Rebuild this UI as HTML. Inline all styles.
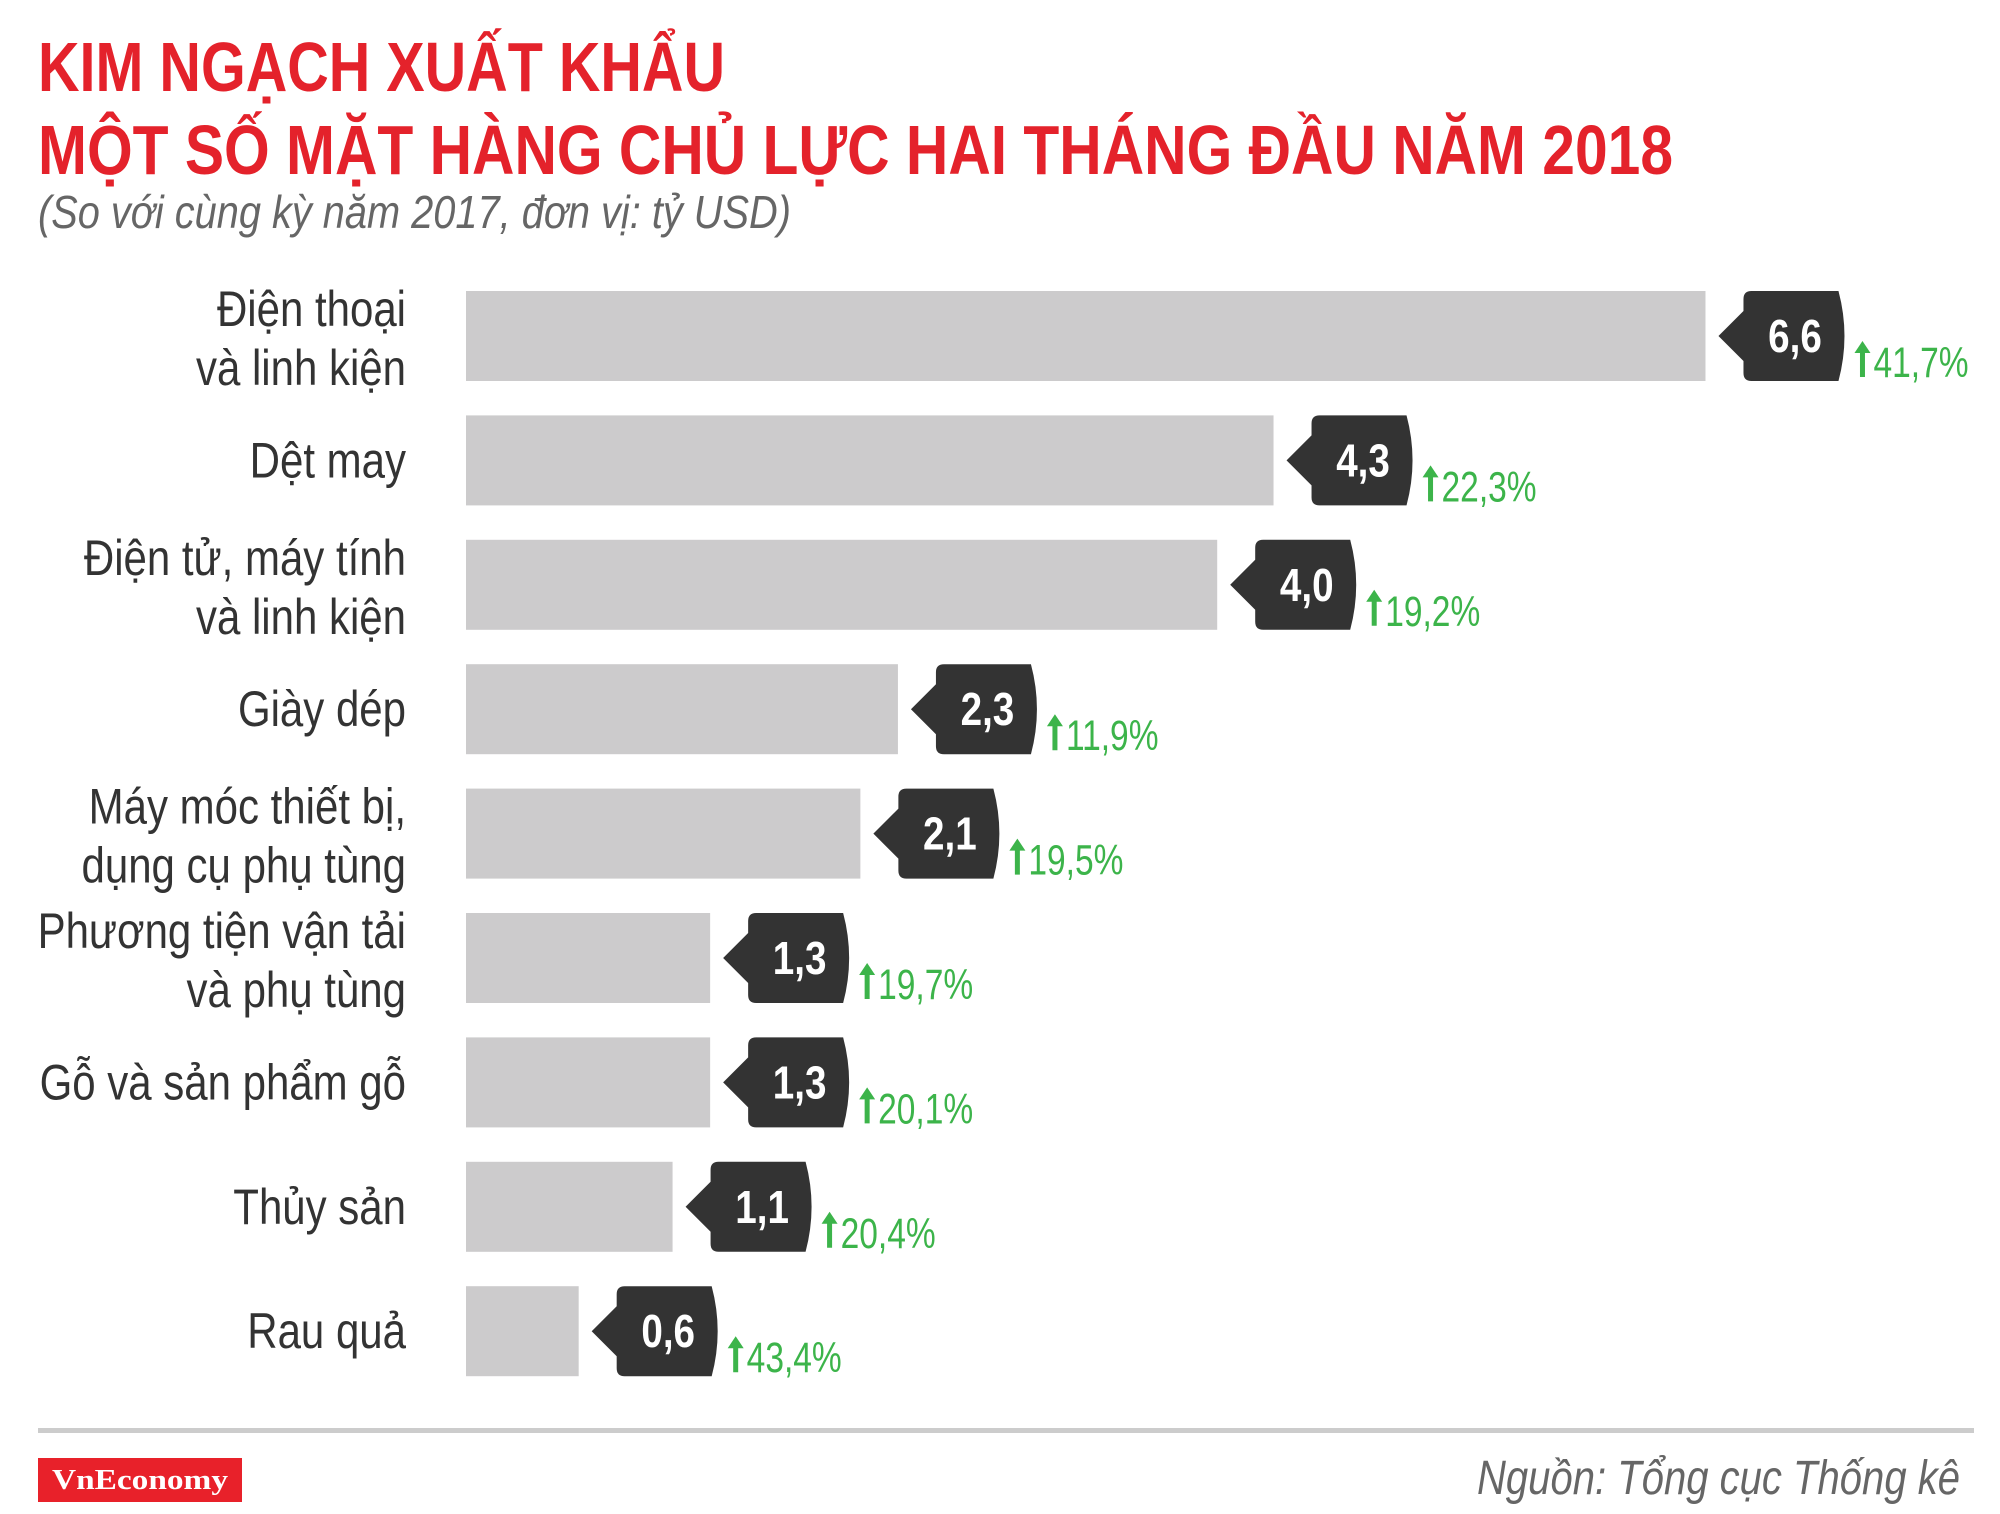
<!DOCTYPE html>
<html><head><meta charset="utf-8"><style>
html,body{margin:0;padding:0;background:#fff;}
svg{display:block;}
</style></head><body>
<svg id="chart" width="2000" height="1514" viewBox="0 0 2000 1514" xmlns="http://www.w3.org/2000/svg" font-family="Liberation Sans, sans-serif">
  <text x="38" y="91" font-size="70" font-weight="bold" fill="#e4222b" textLength="687" lengthAdjust="spacingAndGlyphs">KIM NGẠCH XUẤT KHẨU</text>
  <text x="38" y="174" font-size="70" font-weight="bold" fill="#e4222b" textLength="1635" lengthAdjust="spacingAndGlyphs">MỘT SỐ MẶT HÀNG CHỦ LỰC HAI THÁNG ĐẦU NĂM 2018</text>
  <text x="38" y="228" font-size="46" font-style="italic" fill="#666" textLength="753" lengthAdjust="spacingAndGlyphs">(So với cùng kỳ năm 2017, đơn vị: tỷ USD)</text>
  <g id="bars"></g>
  <rect x="38" y="1428" width="1936" height="5" fill="#cccccc"/>
  <rect x="38" y="1458" width="204" height="44" fill="#e8212a"/>
  <text x="140" y="1489" font-size="28" font-family="Liberation Serif, serif" font-weight="bold" fill="#fff" text-anchor="middle" textLength="176" lengthAdjust="spacingAndGlyphs">VnEconomy</text>
  <text x="1960" y="1494" font-size="48" font-style="italic" fill="#666" text-anchor="end" textLength="483" lengthAdjust="spacingAndGlyphs">Nguồn: Tổng cục Thống kê</text>
</svg>
<script>
const categories = [["Điện thoại","và linh kiện"],["Dệt may"],["Điện tử, máy tính","và linh kiện"],["Giày dép"],["Máy móc thiết bị,","dụng cụ phụ tùng"],["Phương tiện vận tải","và phụ tùng"],["Gỗ và sản phẩm gỗ"],["Thủy sản"],["Rau quả"]];
const values = [6.6, 4.3, 4.0, 2.3, 2.1, 1.3, 1.3, 1.1, 0.6];
const valueLabels = ["6,6","4,3","4,0","2,3","2,1","1,3","1,3","1,1","0,6"];
const growthLabels = ["41,7%","22,3%","19,2%","11,9%","19,5%","19,7%","20,1%","20,4%","43,4%"];

const NS = "http://www.w3.org/2000/svg";
const x0 = 466, pxPerUnit = 187.8, top0 = 291, pitch = 124.4, barH = 90;
const xScale = v => x0 + v * pxPerUnit;
const yScale = i => top0 + i * pitch;
const g = document.getElementById('bars');
function mk(tag, attrs){const e=document.createElementNS(NS,tag);for(const k in attrs)e.setAttribute(k,attrs[k]);return e;}

values.forEach((v,i)=>{
  const y = yScale(i), xe = xScale(v), cy = y + barH/2;
  const bar = mk('rect',{x:x0,y:y,width:xe-x0,height:barH,fill:'#cccbcc'});
  
  
  g.appendChild(bar);
  const lines = categories[i];
  const lab = mk('text',{x:0,y:0,'font-size':50,fill:'#333','text-anchor':'end',transform:`translate(406,0) scale(0.84,1)`});
  
  
  lines.forEach((ln,j)=>{
    const yy = lines.length===1 ? cy+17 : cy-10+j*59;
    const ts = mk('tspan',{x:0,y:yy}); ts.textContent = ln; lab.appendChild(ts);
  });
  g.appendChild(lab);
  const tip = xe + 13, bx = tip + 25, bw = 103, r = 8;
  const d = `M${tip},${cy} L${bx},${cy-25} L${bx},${y+r} Q${bx},${y} ${bx+r},${y} L${bx+bw-r},${y} Q${bx+bw+4},${cy} ${bx+bw-r},${y+barH} L${bx+r},${y+barH} Q${bx},${y+barH} ${bx},${y+barH-r} L${bx},${cy+25} Z`;
  const call = mk('path',{d:d,fill:'#333333'});
  
  
  g.appendChild(call);
  const vt = mk('text',{x:0,y:0,'font-size':46,'font-weight':'bold',fill:'#fff','text-anchor':'middle',transform:`translate(${bx+bw/2},${cy+16}) scale(0.84,1)`});
  vt.textContent = valueLabels[i];
  
  
  g.appendChild(vt);
  const ax = bx + bw + 16, base = y + barH - 4;
  const arrow = mk('path',{d:`M${ax-2.5},${base} L${ax-2.5},${base-24} L${ax-8},${base-24} L${ax},${base-36} L${ax+8},${base-24} L${ax+2.5},${base-24} L${ax+2.5},${base} Z`,fill:'#3cb44a'});
  
  
  g.appendChild(arrow);
  const gt = mk('text',{x:0,y:0,'font-size':43,fill:'#3cb44a',transform:`translate(${ax+11},${base}) scale(0.78,1)`});
  gt.textContent = growthLabels[i];
  
  
  g.appendChild(gt);
});
</script>
</body></html>
